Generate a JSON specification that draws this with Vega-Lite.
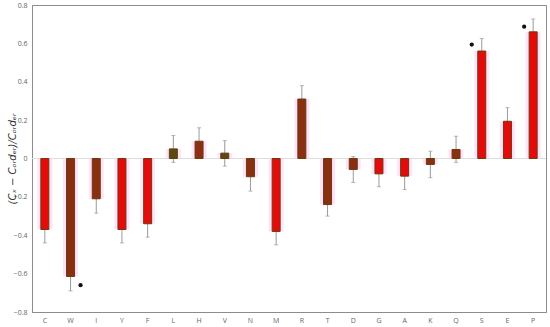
{
  "$schema": "https://vega.github.io/schema/vega-lite/v6.json",
  "width": 514,
  "height": 307,
  "autosize": {"type": "none"},
  "padding": {"left": 32, "top": 5, "right": 4, "bottom": 15},
  "background": "white",
  "config": {
    "view": {"stroke": "#8c8c8c", "strokeWidth": 1},
    "font": "Open Sans",
    "axis": {"labelFont": "Open Sans", "titleFont": "DejaVu Sans"},
    "axisY": {
      "labelOverlap": false,
      "tickCount": 9,
      "format": "~g",
      "labelFontSize": 7,
      "labelColor": "#666",
      "ticks": false,
      "labelPadding": 5,
      "grid": false,
      "domainColor": "#8c8c8c",
      "titleFontStyle": "italic",
      "titleFontWeight": "normal",
      "titleFontSize": 10,
      "titleColor": "#333",
      "titleX": -20,
      "titleBaseline": "middle",
      "titleAlign": "center"
    }
  },
  "data": {
    "values": [
      {"aa": "C", "value": -0.37, "low": -0.44, "high": -0.30, "grp": "red"},
      {"aa": "W", "value": -0.615, "low": -0.69, "high": -0.54, "grp": "brown"},
      {"aa": "I", "value": -0.21, "low": -0.285, "high": -0.14, "grp": "brown"},
      {"aa": "Y", "value": -0.37, "low": -0.44, "high": -0.30, "grp": "red"},
      {"aa": "F", "value": -0.34, "low": -0.41, "high": -0.27, "grp": "red"},
      {"aa": "L", "value": 0.05, "low": -0.02, "high": 0.12, "grp": "olive"},
      {"aa": "H", "value": 0.09, "low": 0.02, "high": 0.16, "grp": "brown"},
      {"aa": "V", "value": 0.028, "low": -0.04, "high": 0.093, "grp": "olive"},
      {"aa": "N", "value": -0.095, "low": -0.17, "high": -0.02, "grp": "brown"},
      {"aa": "M", "value": -0.38, "low": -0.45, "high": -0.31, "grp": "red"},
      {"aa": "R", "value": 0.31, "low": 0.24, "high": 0.38, "grp": "brown"},
      {"aa": "T", "value": -0.24, "low": -0.30, "high": -0.18, "grp": "brown"},
      {"aa": "D", "value": -0.057, "low": -0.125, "high": 0.01, "grp": "brown"},
      {"aa": "G", "value": -0.08, "low": -0.147, "high": -0.013, "grp": "red"},
      {"aa": "A", "value": -0.092, "low": -0.162, "high": -0.022, "grp": "red"},
      {"aa": "K", "value": -0.031, "low": -0.10, "high": 0.038, "grp": "brown"},
      {"aa": "Q", "value": 0.047, "low": -0.02, "high": 0.116, "grp": "brown"},
      {"aa": "S", "value": 0.56, "low": 0.495, "high": 0.625, "grp": "red"},
      {"aa": "E", "value": 0.194, "low": 0.124, "high": 0.265, "grp": "red"},
      {"aa": "P", "value": 0.66, "low": 0.593, "high": 0.727, "grp": "red"}
    ]
  },
  "encoding": {
    "x": {
      "field": "aa",
      "type": "nominal",
      "sort": null,
      "scale": {"type": "band", "paddingInner": 0, "paddingOuter": 0},
      "axis": {
        "title": null,
        "labelAngle": 0,
        "labelFontSize": 7,
        "labelColor": "#666",
        "ticks": false,
        "labelPadding": 4,
        "domainColor": "#8c8c8c"
      }
    }
  },
  "layer": [
    {
      "mark": {"type": "bar", "size": 15, "color": "#ffe3f6"},
      "encoding": {
        "y": {
          "field": "value",
          "type": "quantitative",
          "scale": {"domain": [-0.8, 0.8]},
          "axis": {
            "title": "(Cₓ − Cₒᵣdₑᵣ)/Cₒᵣdₑᵣ",
            "values": [-0.8, -0.6, -0.4, -0.2, 0, 0.2, 0.4, 0.6, 0.8]
          }
        }
      }
    },
    {
      "mark": {"type": "rule", "color": "#dddddd", "strokeWidth": 1},
      "encoding": {"y": {"datum": 0, "type": "quantitative"}, "x": null}
    },
    {
      "mark": {"type": "rule", "color": "#999999", "strokeWidth": 1},
      "encoding": {
        "y": {"field": "low", "type": "quantitative"},
        "y2": {"field": "high"}
      }
    },
    {
      "mark": {"type": "tick", "color": "#999999", "size": 4, "thickness": 1, "orient": "horizontal"},
      "encoding": {"y": {"field": "low", "type": "quantitative"}}
    },
    {
      "mark": {"type": "tick", "color": "#999999", "size": 4, "thickness": 1, "orient": "horizontal"},
      "encoding": {"y": {"field": "high", "type": "quantitative"}}
    },
    {
      "mark": {"type": "bar", "size": 8, "stroke": "#6b3a12", "strokeWidth": 1},
      "encoding": {
        "y": {"field": "value", "type": "quantitative"},
        "color": {
          "field": "grp",
          "type": "nominal",
          "scale": {"domain": ["red", "brown", "olive"], "range": ["#e50b0b", "#8a2f0f", "#5a4a10"]},
          "legend": null
        }
      }
    },
    {
      "transform": [{"filter": "datum.aa === 'W'"}],
      "mark": {"type": "point", "filled": true, "color": "#111111", "size": 18, "opacity": 1, "xOffset": 10},
      "encoding": {"y": {"datum": -0.66, "type": "quantitative"}}
    },
    {
      "transform": [{"filter": "datum.aa === 'S'"}],
      "mark": {"type": "point", "filled": true, "color": "#111111", "size": 18, "opacity": 1, "xOffset": -10},
      "encoding": {"y": {"datum": 0.594, "type": "quantitative"}}
    },
    {
      "transform": [{"filter": "datum.aa === 'P'"}],
      "mark": {"type": "point", "filled": true, "color": "#111111", "size": 18, "opacity": 1, "xOffset": -9},
      "encoding": {"y": {"datum": 0.687, "type": "quantitative"}}
    }
  ]
}
